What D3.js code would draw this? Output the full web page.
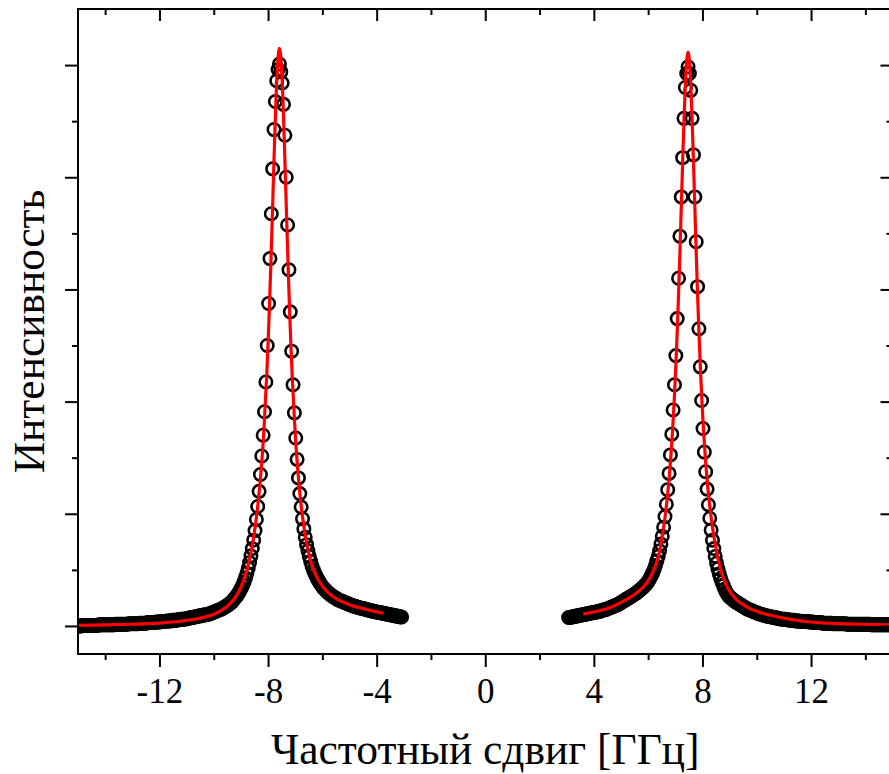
<!DOCTYPE html>
<html><head><meta charset="utf-8">
<script src="https://cdn.jsdelivr.net/npm/d3@7"></script>
<style>body{margin:0;background:#fff} svg{display:block}</style>
</head><body><svg id="c" width="889" height="774"></svg>
<script>
// ---- data ----
const xMajorTicks = [-12, -8, -4, 0, 4, 8, 12];
const xMinorTicks = [-14, -10, -6, -2, 2, 6, 10, 14];
const yMajorTicks = [0, 0.2, 0.4, 0.6, 0.8, 1.0];
const yMinorTicks = [0.1, 0.3, 0.5, 0.7, 0.9];
const xTitle = "Частотный сдвиг [ГГц]";
const yTitle = "Интенсивность";

// measured points, left peak: [shift GHz, intensity]
const leftPeakData = [
[-14.98,0.000],[-14.93,0.000],[-14.88,0.000],[-14.83,0.001],[-14.78,0.001],[-14.73,0.001],[-14.68,0.001],[-14.63,0.001],[-14.58,0.001],[-14.53,0.001],
[-14.48,0.001],[-14.43,0.001],[-14.38,0.001],[-14.33,0.001],[-14.28,0.001],[-14.23,0.002],[-14.18,0.002],[-14.13,0.002],[-14.08,0.002],[-14.03,0.002],
[-13.98,0.002],[-13.93,0.002],[-13.88,0.002],[-13.83,0.002],[-13.78,0.002],[-13.73,0.002],[-13.68,0.002],[-13.63,0.003],[-13.58,0.003],[-13.53,0.003],
[-13.48,0.003],[-13.43,0.003],[-13.38,0.003],[-13.33,0.003],[-13.28,0.003],[-13.23,0.003],[-13.18,0.003],[-13.13,0.004],[-13.08,0.004],[-13.03,0.004],
[-12.98,0.004],[-12.93,0.004],[-12.88,0.004],[-12.83,0.004],[-12.78,0.004],[-12.73,0.005],[-12.68,0.005],[-12.63,0.005],[-12.58,0.005],[-12.53,0.005],
[-12.48,0.005],[-12.43,0.006],[-12.38,0.006],[-12.33,0.006],[-12.28,0.006],[-12.23,0.006],[-12.18,0.006],[-12.13,0.007],[-12.08,0.007],[-12.03,0.007],
[-11.98,0.007],[-11.93,0.008],[-11.88,0.008],[-11.83,0.008],[-11.78,0.008],[-11.73,0.009],[-11.68,0.009],[-11.63,0.009],[-11.58,0.009],[-11.53,0.010],
[-11.48,0.010],[-11.43,0.010],[-11.38,0.010],[-11.33,0.011],[-11.28,0.011],[-11.23,0.012],[-11.18,0.012],[-11.13,0.012],[-11.08,0.012],[-11.03,0.013],
[-10.98,0.013],[-10.93,0.014],[-10.88,0.014],[-10.83,0.015],[-10.78,0.015],[-10.73,0.016],[-10.68,0.016],[-10.63,0.017],[-10.58,0.017],[-10.53,0.018],
[-10.48,0.018],[-10.43,0.019],[-10.38,0.019],[-10.33,0.020],[-10.28,0.020],[-10.23,0.021],[-10.18,0.021],[-10.13,0.022],[-10.08,0.023],[-10.03,0.024],
[-9.98,0.025],[-9.93,0.026],[-9.88,0.027],[-9.83,0.028],[-9.78,0.029],[-9.73,0.030],[-9.68,0.031],[-9.63,0.033],[-9.58,0.034],[-9.53,0.036],
[-9.48,0.037],[-9.43,0.039],[-9.38,0.041],[-9.33,0.043],[-9.28,0.046],[-9.23,0.049],[-9.18,0.052],[-9.13,0.055],
[-9.08,0.059],[-9.03,0.063],[-8.98,0.068],[-8.93,0.073],[-8.88,0.079],[-8.83,0.086],[-8.78,0.094],[-8.73,0.103],[-8.68,0.113],[-8.63,0.125],
[-8.58,0.138],[-8.53,0.153],[-8.48,0.170],[-8.43,0.190],[-8.38,0.213],[-8.33,0.240],[-8.28,0.270],[-8.23,0.303],[-8.18,0.340],[-8.13,0.382],
[-8.08,0.435],[-8.03,0.500],[-7.98,0.575],[-7.93,0.655],[-7.88,0.735],[-7.83,0.815],[-7.78,0.885],[-7.73,0.935],[-7.68,0.972],[-7.63,0.992],
[-7.58,1.002],
[-7.53,0.988],[-7.48,0.968],[-7.43,0.930],[-7.38,0.875],[-7.33,0.800],[-7.28,0.715],[-7.23,0.635],[-7.18,0.560],[-7.13,0.490],[-7.08,0.430],
[-7.03,0.380],[-6.98,0.335],[-6.93,0.297],[-6.88,0.264],[-6.83,0.236],[-6.78,0.212],[-6.73,0.191],[-6.68,0.173],[-6.63,0.158],[-6.58,0.145],
[-6.53,0.134],[-6.48,0.124],[-6.43,0.115],[-6.38,0.107],[-6.33,0.100],[-6.28,0.094],[-6.23,0.089],[-6.18,0.084],[-6.13,0.080],[-6.08,0.076],
[-6.03,0.072],[-5.98,0.069],[-5.93,0.066],[-5.88,0.064],[-5.83,0.061],[-5.78,0.059],[-5.73,0.057],[-5.68,0.055],[-5.63,0.053],[-5.58,0.052],
[-5.53,0.050],[-5.48,0.049],[-5.43,0.047],[-5.38,0.046],[-5.33,0.045],[-5.28,0.044],[-5.23,0.043],[-5.18,0.042],[-5.13,0.041],[-5.08,0.040],
[-5.03,0.039],[-4.98,0.038],[-4.93,0.037],[-4.88,0.036],[-4.83,0.035],[-4.78,0.035],[-4.73,0.034],[-4.68,0.033],[-4.63,0.032],[-4.58,0.032],
[-4.53,0.031],[-4.48,0.031],[-4.43,0.030],[-4.38,0.029],[-4.33,0.029],[-4.28,0.028],[-4.23,0.027],[-4.18,0.027],[-4.13,0.026],[-4.08,0.026],
[-4.03,0.025],[-3.98,0.025],[-3.93,0.024],[-3.88,0.024],[-3.83,0.023],[-3.78,0.023],[-3.73,0.022],[-3.68,0.022],[-3.63,0.021],[-3.58,0.021],
[-3.53,0.020],[-3.48,0.020],[-3.43,0.019],[-3.38,0.019],[-3.33,0.018],[-3.28,0.018],[-3.23,0.017],[-3.18,0.017],[-3.13,0.016],[-3.08,0.016]
];

// measured points, right peak
const rightPeakData = [
[3.07,0.015],[3.12,0.015],[3.17,0.016],[3.22,0.016],[3.27,0.017],[3.32,0.017],[3.37,0.018],[3.42,0.018],[3.47,0.019],[3.52,0.019],
[3.57,0.020],[3.62,0.020],[3.67,0.021],[3.72,0.021],[3.77,0.022],[3.82,0.022],[3.87,0.023],[3.92,0.023],[3.97,0.024],[4.02,0.024],
[4.07,0.025],[4.12,0.025],[4.17,0.026],[4.22,0.026],[4.27,0.027],[4.32,0.028],[4.37,0.029],[4.42,0.029],[4.47,0.030],[4.52,0.031],
[4.57,0.032],[4.62,0.033],[4.67,0.034],[4.72,0.035],[4.77,0.036],[4.82,0.037],[4.87,0.038],[4.92,0.039],[4.97,0.041],[5.02,0.042],
[5.07,0.044],[5.12,0.045],[5.17,0.047],[5.22,0.048],[5.27,0.050],[5.32,0.051],[5.37,0.053],[5.42,0.054],[5.47,0.056],[5.52,0.057],
[5.57,0.059],[5.62,0.061],[5.67,0.063],[5.72,0.065],[5.77,0.067],[5.82,0.069],[5.87,0.072],[5.92,0.074],
[5.97,0.077],[6.02,0.081],[6.07,0.085],[6.12,0.090],[6.17,0.095],[6.22,0.101],[6.27,0.108],[6.32,0.116],[6.37,0.124],[6.42,0.134],
[6.47,0.146],[6.52,0.160],[6.57,0.176],[6.62,0.195],[6.67,0.217],[6.72,0.243],[6.77,0.272],[6.82,0.305],[6.87,0.342],[6.92,0.385],
[6.97,0.430],[7.02,0.482],[7.07,0.548],[7.12,0.620],[7.17,0.695],[7.22,0.765],[7.27,0.835],[7.32,0.905],[7.37,0.960],[7.42,0.985],
[7.47,0.997],
[7.52,0.985],[7.57,0.955],[7.62,0.905],[7.67,0.840],[7.72,0.765],[7.77,0.685],[7.82,0.605],[7.87,0.530],[7.92,0.462],[7.97,0.402],
[8.02,0.352],[8.07,0.310],[8.12,0.275],[8.17,0.244],[8.22,0.216],[8.27,0.192],[8.32,0.171],[8.37,0.153],[8.42,0.138],[8.47,0.124],
[8.52,0.112],[8.57,0.102],[8.62,0.093],[8.67,0.085],[8.72,0.078],[8.77,0.072],[8.82,0.066],[8.87,0.061],[8.92,0.057],[8.97,0.053],
[9.02,0.051],[9.07,0.049],[9.12,0.047],[9.17,0.045],[9.22,0.043],[9.27,0.042],[9.32,0.040],[9.37,0.039],[9.42,0.037],[9.47,0.036],
[9.52,0.034],[9.57,0.033],[9.62,0.031],[9.67,0.030],[9.72,0.029],[9.77,0.028],[9.82,0.027],[9.87,0.026],[9.92,0.025],[9.97,0.024],
[10.02,0.023],[10.07,0.022],[10.12,0.021],[10.17,0.021],[10.22,0.020],[10.27,0.019],[10.32,0.018],[10.37,0.018],[10.42,0.017],[10.47,0.017],
[10.52,0.016],[10.57,0.016],[10.62,0.015],[10.67,0.015],[10.72,0.014],[10.77,0.014],[10.82,0.013],[10.87,0.013],[10.92,0.012],[10.97,0.012],
[11.02,0.012],[11.07,0.012],[11.12,0.011],[11.17,0.011],[11.22,0.010],[11.27,0.010],[11.32,0.010],[11.37,0.010],[11.42,0.009],[11.47,0.009],
[11.52,0.009],[11.57,0.009],[11.62,0.008],[11.67,0.008],[11.72,0.008],[11.77,0.008],[11.82,0.008],[11.87,0.008],[11.92,0.007],[11.97,0.007],
[12.02,0.007],[12.07,0.007],[12.12,0.006],[12.17,0.006],[12.22,0.006],[12.27,0.006],[12.32,0.006],[12.37,0.006],[12.42,0.005],[12.47,0.005],
[12.52,0.005],[12.57,0.005],[12.62,0.005],[12.67,0.005],[12.72,0.005],[12.77,0.005],[12.82,0.004],[12.87,0.004],[12.92,0.004],[12.97,0.004],
[13.02,0.004],[13.07,0.004],[13.12,0.004],[13.17,0.004],[13.22,0.004],[13.27,0.004],[13.32,0.003],[13.37,0.003],[13.42,0.003],[13.47,0.003],
[13.52,0.003],[13.57,0.003],[13.62,0.003],[13.67,0.003],[13.72,0.003],[13.77,0.003],[13.82,0.003],[13.87,0.003],[13.92,0.003],[13.97,0.003],
[14.02,0.003],[14.07,0.003],[14.12,0.003],[14.17,0.003],[14.22,0.002],[14.27,0.002],[14.32,0.002],[14.37,0.002],[14.42,0.002],[14.47,0.002],
[14.52,0.002],[14.57,0.002],[14.62,0.002],[14.67,0.002],[14.72,0.002],[14.77,0.002],[14.82,0.002],[14.87,0.002],[14.92,0.002],[14.97,0.002]
];

// fitted curves (red)
const leftFit = [
[-15.0,0.001],[-14.0,0.002],[-13.0,0.003],[-12.0,0.005],[-11.5,0.007],[-11.0,0.010],[-10.5,0.014],[-10.0,0.021],[-9.75,0.027],[-9.5,0.035],
[-9.25,0.048],[-9.1,0.059],[-9.0,0.069],[-8.9,0.081],[-8.8,0.096],[-8.7,0.115],[-8.6,0.138],[-8.5,0.168],[-8.4,0.205],[-8.3,0.252],
[-8.2,0.313],[-8.15,0.351],[-8.1,0.400],[-8.05,0.445],[-8.0,0.503],[-7.95,0.568],[-7.9,0.640],[-7.85,0.718],[-7.8,0.800],[-7.75,0.879],
[-7.7,0.949],[-7.65,1.001],[-7.58,1.030],[-7.5,0.992],[-7.45,0.936],[-7.4,0.863],[-7.35,0.783],[-7.3,0.702],[-7.25,0.625],[-7.2,0.554],
[-7.15,0.490],[-7.1,0.435],[-7.0,0.343],[-6.9,0.275],[-6.8,0.223],[-6.7,0.184],[-6.6,0.153],[-6.5,0.130],[-6.4,0.111],[-6.2,0.087],
[-6.0,0.071],[-5.75,0.058],[-5.5,0.049],[-5.0,0.038],[-4.5,0.031],[-4.0,0.025],[-3.75,0.023]
];
const rightFit = [
[3.61,0.021],[4.0,0.025],[4.5,0.031],[5.0,0.042],[5.5,0.056],[5.75,0.066],[6.0,0.080],[6.2,0.099],[6.3,0.111],[6.4,0.128],
[6.5,0.155],[6.6,0.186],[6.7,0.226],[6.8,0.279],[6.9,0.349],[6.97,0.411],[7.02,0.465],[7.07,0.524],[7.12,0.592],[7.17,0.666],
[7.22,0.746],[7.27,0.826],[7.32,0.902],[7.37,0.966],[7.42,1.008],[7.47,1.023],[7.52,1.008],[7.57,0.966],[7.62,0.902],[7.67,0.826],
[7.72,0.746],[7.77,0.666],[7.82,0.592],[7.87,0.524],[7.92,0.465],[7.97,0.411],[8.07,0.326],[8.17,0.261],[8.27,0.213],[8.37,0.176],
[8.47,0.146],[8.57,0.121],[8.67,0.101],[8.8,0.082],[9.0,0.062],[9.25,0.047],[9.5,0.038],[9.75,0.031],[10.0,0.026],[10.5,0.019],
[11.0,0.014],[11.5,0.010],[12.0,0.007],[13.0,0.004],[14.0,0.003],[15.0,0.002]
];

// ---- drawing ----
const font = "'Liberation Serif','Times New Roman',Times,serif";
const svg = d3.select("#c");
const m = {left: 78, right: 892.5, top: 9, bottom: 654};
const x = d3.scaleLinear().domain([-15, 15]).range([m.left, m.right]);
const y = d3.scaleLinear().domain([-0.05, 1.1]).range([m.bottom, m.top]);

svg.append("defs").append("clipPath").attr("id", "clip")
  .append("rect").attr("x", m.left).attr("y", m.top)
  .attr("width", m.right - m.left).attr("height", m.bottom - m.top);

const plot = svg.append("g").attr("clip-path", "url(#clip)");

[leftPeakData, rightPeakData].forEach(series => {
  plot.append("g").selectAll("circle").data(series).join("circle")
    .attr("cx", d => x(d[0])).attr("cy", d => y(d[1])).attr("r", 6.2)
    .attr("fill", "none").attr("stroke", "#000").attr("stroke-width", 2.6);
});

const line = d3.line().x(d => x(d[0])).y(d => y(d[1])).curve(d3.curveMonotoneX);
[leftFit, rightFit].forEach(series => {
  plot.append("path").datum(series).attr("d", line)
    .attr("fill", "none").attr("stroke", "#ff0000").attr("stroke-width", 3.2)
    .attr("stroke-linejoin", "round");
});

function styleAxis(g) {
  g.select(".domain").remove();
  g.selectAll(".tick line").attr("stroke", "#000").attr("stroke-width", 2);
  g.selectAll(".tick text").attr("font-family", font).attr("font-size", 35).attr("fill", "#000");
}

// bottom
svg.append("g").attr("transform", `translate(0,${m.bottom})`)
  .call(d3.axisBottom(x).tickValues(xMajorTicks).tickSize(13).tickPadding(11).tickFormat(d => String(d)))
  .call(styleAxis);
svg.append("g").attr("transform", `translate(0,${m.bottom})`)
  .call(d3.axisBottom(x).tickValues(xMinorTicks).tickSize(6).tickFormat(""))
  .call(styleAxis);
// top (inward)
svg.append("g").attr("transform", `translate(0,${m.top})`)
  .call(d3.axisTop(x).tickValues(xMajorTicks).tickSize(-12).tickFormat(""))
  .call(styleAxis);
svg.append("g").attr("transform", `translate(0,${m.top})`)
  .call(d3.axisTop(x).tickValues(xMinorTicks).tickSize(-6).tickFormat(""))
  .call(styleAxis);
// left (outward)
svg.append("g").attr("transform", `translate(${m.left},0)`)
  .call(d3.axisLeft(y).tickValues(yMajorTicks).tickSize(13).tickFormat(""))
  .call(styleAxis);
svg.append("g").attr("transform", `translate(${m.left},0)`)
  .call(d3.axisLeft(y).tickValues(yMinorTicks).tickSize(6).tickFormat(""))
  .call(styleAxis);
// right (inward)
svg.append("g").attr("transform", `translate(${m.right},0)`)
  .call(d3.axisRight(y).tickValues(yMajorTicks).tickSize(-12).tickFormat(""))
  .call(styleAxis);
svg.append("g").attr("transform", `translate(${m.right},0)`)
  .call(d3.axisRight(y).tickValues(yMinorTicks).tickSize(-6).tickFormat(""))
  .call(styleAxis);

// frame
svg.append("rect").attr("x", m.left).attr("y", m.top)
  .attr("width", m.right - m.left).attr("height", m.bottom - m.top)
  .attr("fill", "none").attr("stroke", "#000").attr("stroke-width", 2);

// titles
svg.append("text").attr("x", x(0)).attr("y", 764).attr("text-anchor", "middle")
  .attr("font-family", font).attr("font-size", 43.5).attr("fill", "#000").text(xTitle);
svg.append("text").attr("transform", `translate(44,${(m.top + m.bottom) / 2}) rotate(-90)`)
  .attr("text-anchor", "middle")
  .attr("font-family", font).attr("font-size", 43.5).attr("fill", "#000").text(yTitle);
</script>
</body></html>
